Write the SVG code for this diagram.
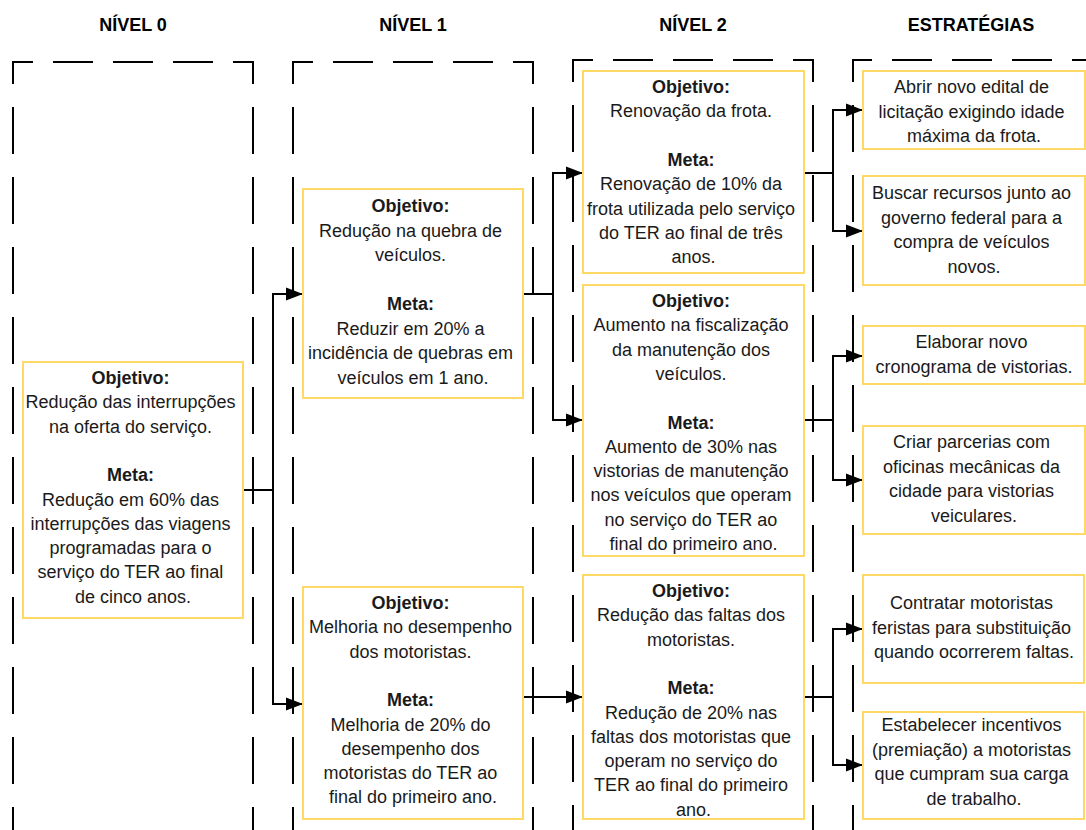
<svg xmlns="http://www.w3.org/2000/svg" width="1086" height="830" viewBox="0 0 1086 830">
  <style>
    .hdr { font-family: "Liberation Sans", Arial, sans-serif; font-size: 18px; font-weight: bold; fill: #000; text-anchor: middle; }
    .txt { font-family: "Liberation Sans", Arial, sans-serif; font-size: 18px; fill: #1a1a1a; text-anchor: middle; }
    .txt .b { font-weight: bold; }
    .box { fill: #fff; stroke: #ffd966; stroke-width: 2; }
    .dh { stroke: #000; stroke-width: 2; stroke-dasharray: 40 20; stroke-dashoffset: 20; fill: none; }
    .dv { stroke: #000; stroke-width: 2; stroke-dasharray: 47 23; stroke-dashoffset: 24; fill: none; }
    .conn { fill: none; stroke: #000; stroke-width: 2; }
  </style>
  <defs>
    <marker id="arrow" markerUnits="userSpaceOnUse" markerWidth="18" markerHeight="14" refX="17" refY="7" orient="auto">
      <path d="M0,0.5 L17,7 L0,13.5 z" fill="#000"/>
    </marker>
  </defs>

  <rect width="1086" height="830" fill="#fff"/>

  <!-- column headers -->
  <g id="headers">
    <text class="hdr" x="133" y="31">NÍVEL 0</text>
    <text class="hdr" x="413" y="31">NÍVEL 1</text>
    <text class="hdr" x="693" y="31">NÍVEL 2</text>
    <text class="hdr" x="971" y="31">ESTRATÉGIAS</text>
  </g>

  <!-- dashed column frames -->
  <g id="frames">
    <line class="dh" x1="13" y1="62" x2="253" y2="62"/>
    <line class="dv" x1="13" y1="61" x2="13" y2="830"/>
    <line class="dv" x1="253" y1="61" x2="253" y2="830"/>

    <line class="dh" x1="293" y1="62" x2="533" y2="62"/>
    <line class="dv" x1="293" y1="61" x2="293" y2="830"/>
    <line class="dv" x1="533" y1="61" x2="533" y2="830"/>

    <line class="dh" x1="573" y1="60" x2="813" y2="60"/>
    <line class="dv" x1="573" y1="59" x2="573" y2="830"/>
    <line class="dv" x1="813" y1="59" x2="813" y2="830"/>

    <line class="dh" x1="852" y1="60" x2="1086" y2="60"/>
    <line class="dv" x1="853" y1="59" x2="853" y2="830"/>
  </g>

  <!-- connectors -->
  <g id="connectors">
    <path class="conn" d="M243,490 H273 V294 H303" marker-end="url(#arrow)"/>
    <path class="conn" d="M273,490 V704 H303" marker-end="url(#arrow)"/>

    <path class="conn" d="M523,294 H553 V173 H583" marker-end="url(#arrow)"/>
    <path class="conn" d="M553,294 V420 H583" marker-end="url(#arrow)"/>
    <path class="conn" d="M523,697 H583" marker-end="url(#arrow)"/>

    <path class="conn" d="M804,173 H833 V110 H863" marker-end="url(#arrow)"/>
    <path class="conn" d="M833,173 V231 H863" marker-end="url(#arrow)"/>

    <path class="conn" d="M804,420 H833 V356 H863" marker-end="url(#arrow)"/>
    <path class="conn" d="M833,420 V480 H863" marker-end="url(#arrow)"/>

    <path class="conn" d="M804,697 H833 V629 H863" marker-end="url(#arrow)"/>
    <path class="conn" d="M833,697 V765 H863" marker-end="url(#arrow)"/>
  </g>

  <!-- level 0 -->
  <g id="n0">
    <rect class="box" x="23" y="362" width="220" height="256"/>
    <text class="txt">
      <tspan class="b" x="133" y="384">Objetivo:</tspan>
      <tspan x="133" y="408.3">Redução das interrupções</tspan>
      <tspan x="133" y="432.6">na oferta do serviço.</tspan>
      <tspan class="b" x="133" y="481.2">Meta:</tspan>
      <tspan x="133" y="505.5">Redução em 60% das</tspan>
      <tspan x="133" y="529.8">interrupções das viagens</tspan>
      <tspan x="133" y="554.1">programadas para o</tspan>
      <tspan x="133" y="578.4">serviço do TER ao final</tspan>
      <tspan x="133" y="602.7">de cinco anos.</tspan>
    </text>
  </g>

  <!-- level 1 -->
  <g id="n1a">
    <rect class="box" x="303" y="189" width="220" height="209"/>
    <text class="txt">
      <tspan class="b" x="413" y="212">Objetivo:</tspan>
      <tspan x="413" y="236.5">Redução na quebra de</tspan>
      <tspan x="413" y="261">veículos.</tspan>
      <tspan class="b" x="413" y="310">Meta:</tspan>
      <tspan x="413" y="334.5">Reduzir em 20% a</tspan>
      <tspan x="413" y="359">incidência de quebras em</tspan>
      <tspan x="413" y="383.5">veículos em 1 ano.</tspan>
    </text>
  </g>

  <g id="n1b">
    <rect class="box" x="303" y="587" width="220" height="232"/>
    <text class="txt">
      <tspan class="b" x="413" y="609">Objetivo:</tspan>
      <tspan x="413" y="633.3">Melhoria no desempenho</tspan>
      <tspan x="413" y="657.6">dos motoristas.</tspan>
      <tspan class="b" x="413" y="706.2">Meta:</tspan>
      <tspan x="413" y="730.5">Melhoria de 20% do</tspan>
      <tspan x="413" y="754.8">desempenho dos</tspan>
      <tspan x="413" y="779.1">motoristas do TER ao</tspan>
      <tspan x="413" y="803.4">final do primeiro ano.</tspan>
    </text>
  </g>

  <!-- level 2 -->
  <g id="n2a">
    <rect class="box" x="583" y="71" width="221" height="202"/>
    <text class="txt">
      <tspan class="b" x="693.5" y="93">Objetivo:</tspan>
      <tspan x="693.5" y="117.3">Renovação da frota.</tspan>
      <tspan class="b" x="693.5" y="165.9">Meta:</tspan>
      <tspan x="693.5" y="190.2">Renovação de 10% da</tspan>
      <tspan x="693.5" y="214.5">frota utilizada pelo serviço</tspan>
      <tspan x="693.5" y="238.8">do TER ao final de três</tspan>
      <tspan x="693.5" y="263.1">anos.</tspan>
    </text>
  </g>

  <g id="n2b">
    <rect class="box" x="583" y="285" width="221" height="271"/>
    <text class="txt">
      <tspan class="b" x="693.5" y="307">Objetivo:</tspan>
      <tspan x="693.5" y="331.3">Aumento na fiscalização</tspan>
      <tspan x="693.5" y="355.6">da manutenção dos</tspan>
      <tspan x="693.5" y="379.9">veículos.</tspan>
      <tspan class="b" x="693.5" y="428.5">Meta:</tspan>
      <tspan x="693.5" y="452.8">Aumento de 30% nas</tspan>
      <tspan x="693.5" y="477.1">vistorias de manutenção</tspan>
      <tspan x="693.5" y="501.4">nos veículos que operam</tspan>
      <tspan x="693.5" y="525.7">no serviço do TER ao</tspan>
      <tspan x="693.5" y="550">final do primeiro ano.</tspan>
    </text>
  </g>

  <g id="n2c">
    <rect class="box" x="583" y="575" width="221" height="244"/>
    <text class="txt">
      <tspan class="b" x="693.5" y="597">Objetivo:</tspan>
      <tspan x="693.5" y="621.3">Redução das faltas dos</tspan>
      <tspan x="693.5" y="645.6">motoristas.</tspan>
      <tspan class="b" x="693.5" y="694.2">Meta:</tspan>
      <tspan x="693.5" y="718.5">Redução de 20% nas</tspan>
      <tspan x="693.5" y="742.8">faltas dos motoristas que</tspan>
      <tspan x="693.5" y="767.1">operam no serviço do</tspan>
      <tspan x="693.5" y="791.4">TER ao final do primeiro</tspan>
      <tspan x="693.5" y="815.7">ano.</tspan>
    </text>
  </g>

  <!-- strategies -->
  <g id="s1">
    <rect class="box" x="863" y="71" width="222" height="78"/>
    <text class="txt">
      <tspan x="974" y="93">Abrir novo edital de</tspan>
      <tspan x="974" y="117.5">licitação exigindo idade</tspan>
      <tspan x="974" y="142">máxima da frota.</tspan>
    </text>
  </g>

  <g id="s2">
    <rect class="box" x="863" y="176" width="222" height="109"/>
    <text class="txt">
      <tspan x="974" y="199">Buscar recursos junto ao</tspan>
      <tspan x="974" y="223.5">governo federal para a</tspan>
      <tspan x="974" y="248">compra de veículos</tspan>
      <tspan x="974" y="272.5">novos.</tspan>
    </text>
  </g>

  <g id="s3">
    <rect class="box" x="863" y="326" width="222" height="58"/>
    <text class="txt">
      <tspan x="974" y="348">Elaborar novo</tspan>
      <tspan x="974" y="372.5">cronograma de vistorias.</tspan>
    </text>
  </g>

  <g id="s4">
    <rect class="box" x="863" y="426" width="222" height="108"/>
    <text class="txt">
      <tspan x="974" y="448">Criar parcerias com</tspan>
      <tspan x="974" y="472.5">oficinas mecânicas da</tspan>
      <tspan x="974" y="497">cidade para vistorias</tspan>
      <tspan x="974" y="521.5">veiculares.</tspan>
    </text>
  </g>

  <g id="s5">
    <rect class="box" x="863" y="575" width="221" height="108"/>
    <text class="txt">
      <tspan x="974" y="609">Contratar motoristas</tspan>
      <tspan x="974" y="633.5">feristas para substituição</tspan>
      <tspan x="974" y="658">quando ocorrerem faltas.</tspan>
    </text>
  </g>

  <g id="s6">
    <rect class="box" x="863" y="712" width="221" height="107"/>
    <text class="txt">
      <tspan x="974" y="731">Estabelecer incentivos</tspan>
      <tspan x="974" y="755.5">(premiação) a motoristas</tspan>
      <tspan x="974" y="780">que cumpram sua carga</tspan>
      <tspan x="974" y="804.5">de trabalho.</tspan>
    </text>
  </g>
</svg>
